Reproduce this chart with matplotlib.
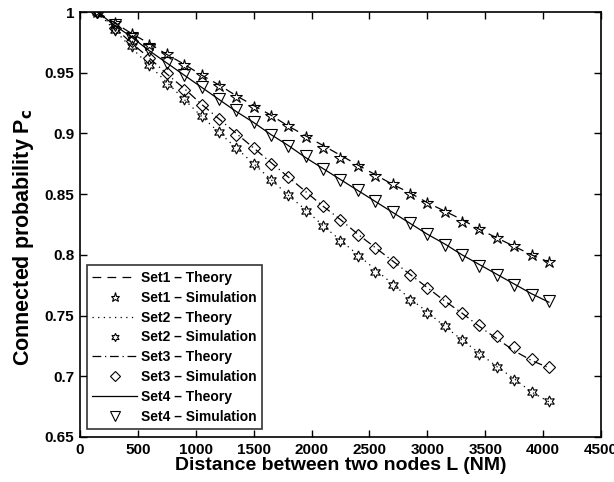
import matplotlib
matplotlib.use('Agg')
import matplotlib.pyplot as plt

plt.rcParams['font.family'] = ['Liberation Sans', 'DejaVu Sans']
plt.rcParams['font.weight'] = 'bold'

# distance between nodes (NM)
dist = [150, 300, 450, 600, 750, 900, 1050, 1200, 1350, 1500, 1650, 1800, 1950,
        2100, 2250, 2400, 2550, 2700, 2850, 3000, 3150, 3300, 3450, 3600, 3750, 3900, 4050]

set1_theory = [1.000, 0.991, 0.982, 0.974, 0.965, 0.957, 0.948, 0.940, 0.931, 0.923, 0.915, 0.906, 0.898,
               0.890, 0.882, 0.874, 0.866, 0.858, 0.851, 0.843, 0.836, 0.829, 0.821, 0.814, 0.807, 0.800, 0.794]
set1_sim = [1.000, 0.991, 0.982, 0.973, 0.965, 0.956, 0.948, 0.939, 0.930, 0.922, 0.914, 0.906, 0.897,
            0.888, 0.880, 0.873, 0.865, 0.858, 0.850, 0.843, 0.835, 0.827, 0.821, 0.814, 0.807, 0.800, 0.794]

set2_theory = [1.000, 0.985, 0.970, 0.956, 0.942, 0.928, 0.914, 0.901, 0.888, 0.875, 0.862, 0.849, 0.837,
               0.824, 0.812, 0.800, 0.788, 0.776, 0.764, 0.753, 0.741, 0.730, 0.719, 0.708, 0.698, 0.687, 0.679]
set2_sim = [1.000, 0.985, 0.972, 0.956, 0.941, 0.928, 0.914, 0.901, 0.888, 0.875, 0.862, 0.849, 0.836,
            0.824, 0.811, 0.799, 0.786, 0.775, 0.763, 0.752, 0.741, 0.730, 0.718, 0.708, 0.697, 0.687, 0.680]

set3_theory = [1.000, 0.987, 0.974, 0.962, 0.949, 0.937, 0.924, 0.912, 0.900, 0.888, 0.876, 0.864, 0.852,
               0.840, 0.829, 0.817, 0.806, 0.795, 0.784, 0.773, 0.762, 0.752, 0.741, 0.731, 0.721, 0.713, 0.707]
set3_sim = [1.000, 0.987, 0.976, 0.962, 0.950, 0.936, 0.923, 0.912, 0.899, 0.888, 0.875, 0.864, 0.851,
            0.840, 0.829, 0.816, 0.806, 0.794, 0.783, 0.773, 0.762, 0.752, 0.742, 0.733, 0.724, 0.714, 0.708]

set4_theory = [1.000, 0.989, 0.979, 0.968, 0.958, 0.948, 0.938, 0.928, 0.918, 0.909, 0.899, 0.890, 0.880,
               0.871, 0.862, 0.853, 0.844, 0.835, 0.826, 0.817, 0.809, 0.800, 0.792, 0.784, 0.776, 0.768, 0.761]
set4_sim = [1.000, 0.989, 0.978, 0.969, 0.958, 0.948, 0.938, 0.928, 0.919, 0.909, 0.899, 0.890, 0.881,
            0.871, 0.862, 0.853, 0.844, 0.835, 0.826, 0.817, 0.808, 0.800, 0.791, 0.783, 0.775, 0.767, 0.762]

fig = plt.figure(figsize=(6.14, 4.82), dpi=100)
ax = fig.add_axes([0.1303, 0.0934, 0.8485, 0.8817])

lw = 0.9
mk = dict(linestyle='none', markerfacecolor='none', markeredgecolor='k', markeredgewidth=0.8)

ax.plot(dist, set1_theory, color='k', lw=lw, linestyle=(0, (7, 5)), label='Set1 \u2013 Theory')
ax.plot(dist, set1_sim, marker='*', markersize=9, label='Set1 \u2013 Simulation', **mk)
ax.plot(dist, set2_theory, color='k', lw=lw, linestyle=(0, (1, 3.5)), label='Set2 \u2013 Theory')
ax.plot(dist, set2_sim, marker=(6, 1, 0), markersize=8, label='Set2 \u2013 Simulation', **mk)
ax.plot(dist, set3_theory, color='k', lw=lw, linestyle=(0, (7, 3, 1, 3)), label='Set3 \u2013 Theory')
ax.plot(dist, set3_sim, marker='D', markersize=6.5, label='Set3 \u2013 Simulation', **mk)
ax.plot(dist, set4_theory, color='k', lw=lw, linestyle='-', label='Set4 \u2013 Theory')
ax.plot(dist, set4_sim, marker='v', markersize=9, label='Set4 \u2013 Simulation', **mk)

ax.set_xlim(0, 4500)
ax.set_ylim(0.65, 1.0)
ax.set_xticks([0, 500, 1000, 1500, 2000, 2500, 3000, 3500, 4000, 4500])
ax.set_yticks([0.65, 0.7, 0.75, 0.8, 0.85, 0.9, 0.95, 1.0])
ax.set_yticklabels(['0.65', '0.7', '0.75', '0.8', '0.85', '0.9', '0.95', '1'])
ax.tick_params(direction='in', top=True, right=True, length=5, width=1, labelsize=11, pad=4)
for s in ax.spines.values():
    s.set_linewidth(1.2)

ax.set_xlabel('Distance between two nodes L (NM)', fontsize=14, fontweight='bold', labelpad=0)
ax.set_ylabel('Connected probability P$_\\mathbf{c}$', fontsize=15.5, fontweight='bold')
ax.yaxis.set_label_coords(-0.084, 0.47)

leg = ax.legend(loc='lower left', bbox_to_anchor=(0.013, 0.018), fontsize=10, frameon=True,
                fancybox=False, edgecolor='k', handlelength=3.2, handletextpad=0.3,
                borderaxespad=0, labelspacing=0.42, borderpad=0.4, markerscale=0.75)
leg.get_frame().set_linewidth(1.2)
for t in leg.get_texts():
    t.set_fontweight('bold')

fig.savefig('out.png', dpi=100)
